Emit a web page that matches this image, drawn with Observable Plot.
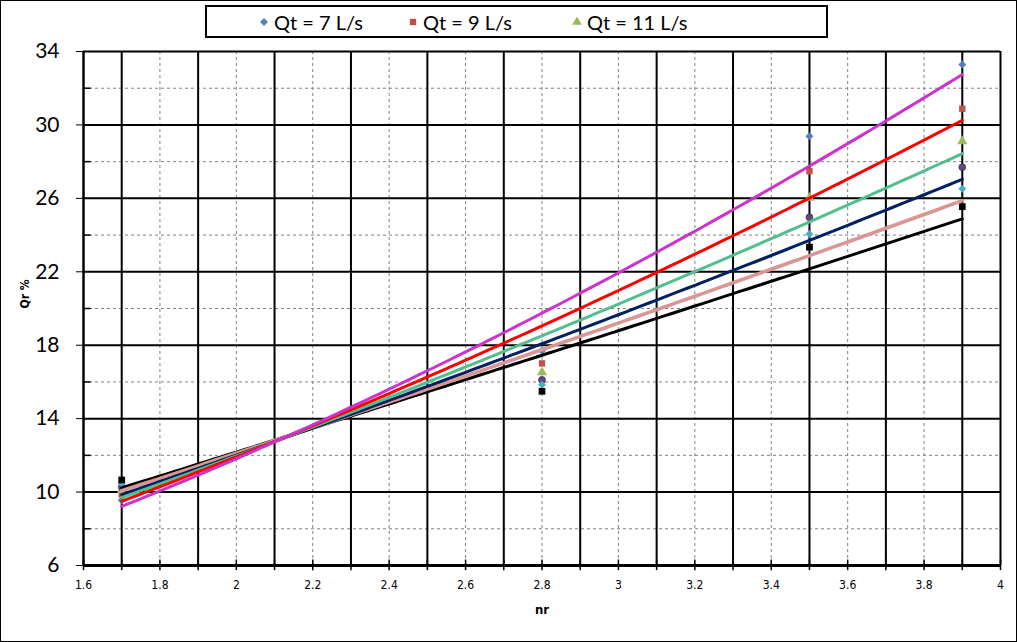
<!DOCTYPE html>
<html><head><meta charset="utf-8">
<script src="https://cdn.jsdelivr.net/npm/d3@7"></script>
<script src="https://cdn.jsdelivr.net/npm/@observablehq/plot@0.6"></script>
<style>
body{margin:0;background:#fff;}
#chart{position:relative;width:1017px;height:642px;overflow:hidden;font-family:Lato,"Open Sans",sans-serif;background:#fff;}
#border{position:absolute;left:0;top:0;width:1017px;height:642px;box-sizing:border-box;border:1.5px solid #000;pointer-events:none;}
#legend{position:absolute;left:205px;top:5px;width:623px;height:33px;box-sizing:border-box;border:2px solid #000;background:#fff;}
.item{position:absolute;top:0;height:29px;display:flex;align-items:center;font-size:20px;color:#000;white-space:nowrap;}
.item svg{margin-right:5px;}
#plot{position:absolute;left:0;top:43px;}
</style></head><body>
<div id="chart"><div id="legend"></div><div id="plot"></div><div id="border"></div></div>
<script>
// ---- data ----
const nr = [1.7, 2.8, 3.5, 3.9];
const qt7  = [9.56, 17.70, 29.38, 33.29];
const qt9  = [9.87, 17.01, 27.48, 30.88];
const qt11 = [10.08, 16.52, 26.03, 29.11];
const s4   = [10.26, 16.11, 24.97, 27.70];
const s5   = [10.47, 15.85, 24.06, 26.52];
const s6   = [10.66, 15.49, 23.34, 25.55];
const seriesNames = ["Qt = 7 L/s", "Qt = 9 L/s", "Qt = 11 L/s", "Series 4", "Series 5", "Series 6"];
const legendNames = ["Qt = 7 L/s", "Qt = 9 L/s", "Qt = 11 L/s"];
const xLabelTicks = [1.6, 1.8, 2, 2.2, 2.4, 2.6, 2.8, 3, 3.2, 3.4, 3.6, 3.8, 4];
const xSolidGrid = [1.7, 1.9, 2.1, 2.3, 2.5, 2.7, 2.9, 3.1, 3.3, 3.5, 3.7, 3.9, 4];
const xDashedGrid = [1.8, 2, 2.2, 2.4, 2.6, 2.8, 3, 3.2, 3.4, 3.6, 3.8];
const xMinorTicks = [1.6, 1.7, 1.8, 1.9, 2, 2.1, 2.2, 2.3, 2.4, 2.5, 2.6, 2.7, 2.8, 2.9, 3, 3.1, 3.2, 3.3, 3.4, 3.5, 3.6, 3.7, 3.8, 3.9, 4];
const yLabelTicks = [6, 10, 14, 18, 22, 26, 30, 34];
const yDashedGrid = [8, 12, 16, 20, 24, 28, 32];

// ---- styles ----
const seriesValues = [qt7, qt9, qt11, s4, s5, s6];
const markerColors = ["#4F81BD", "#C0504D", "#9BBB59", "#604A7B", "#4BACC6", "#000000"];
const markerSymbols = ["diamond2", "square", "triangle", "circle", "diamond2", "square"];
const markerR = [3.6, 3.6, 3.8, 3.4, 3.6, 3.8];
const trendColors = ["#CC33CC", "#FF0000", "#52BE8E", "#002060", "#DA9694", "#000000"];
const trendWidths = [3, 3, 3, 3, 3.6, 3];

// power trendline y = a x^b (least squares in log-log space, like Excel)
function fitPower(xs, ys) {
  const lx = xs.map(Math.log), ly = ys.map(Math.log);
  const mx = d3.mean(lx), my = d3.mean(ly);
  const b = d3.sum(lx, (v, i) => (v - mx) * (ly[i] - my)) / d3.sum(lx, v => (v - mx) ** 2);
  const a = Math.exp(my - b * mx);
  return {a, b};
}

const rows = seriesValues.map((vals, i) => nr.map((x, j) => ({series: seriesNames[i], nr: x, qr: vals[j]})));
const xMin = d3.min(nr), xMax = d3.max(nr);
const trends = seriesValues.map((vals, i) => {
  const {a, b} = fitPower(nr, vals);
  return d3.range(0, 111).map(k => {
    const x = xMin + (xMax - xMin) * k / 110;
    return {series: seriesNames[i], nr: x, qr: a * Math.pow(x, b)};
  });
});

const narrow = "'Liberation Sans Narrow','DejaVu Sans Condensed',sans-serif";
const marks = [
  Plot.ruleX(xDashedGrid, {stroke: "#808080", strokeWidth: 1, strokeDasharray: "3,3"}),
  Plot.ruleY(yDashedGrid, {stroke: "#808080", strokeWidth: 1, strokeDasharray: "3,3"}),
  Plot.ruleX(xSolidGrid, {stroke: "#000", strokeWidth: 2}),
  Plot.ruleY(yLabelTicks.filter(d => d > 6), {stroke: "#000", strokeWidth: 2}),
  // minor tick marks
  Plot.ruleY(yDashedGrid, {x1: 1.6, x2: 1.62, stroke: "#000", strokeWidth: 1.5}),
  Plot.ruleX(xMinorTicks, {y1: 5.72, y2: 6.3, stroke: "#000", strokeWidth: 1.5}),
  // axes
  Plot.axisY({ticks: yLabelTicks, tickSize: 7, tickPadding: 17, fontSize: 21, fontFamily: "Lato", label: null, stroke: "#000"}),
  Plot.axisX({ticks: xLabelTicks, tickSize: 0, tickPadding: 15, fontSize: 12, fontFamily: narrow, tickFormat: d => String(d), label: null}),
  Plot.text(["nr"], {frameAnchor: "bottom", dy: 48, fontSize: 13, fontWeight: "bold", fontFamily: narrow}),
  Plot.text(["Qr %"], {frameAnchor: "left", dx: -58, rotate: -90, fontSize: 12, fontWeight: "bold", fontFamily: narrow}),
];
// markers
rows.forEach((r, i) => {
  marks.push(Plot.dot(r, {x: "nr", y: "qr", symbol: () => markerSymbols[i], fill: markerColors[i], r: markerR[i],
    stroke: i === 3 ? "#3F3151" : "none", strokeWidth: 0.8}));
});
// trendlines (drawn over the markers)
for (let i = trends.length - 1; i >= 0; i--) {
  marks.push(Plot.line(trends[i], {x: "nr", y: "qr", stroke: trendColors[i], strokeWidth: trendWidths[i]}));
}
// frame lines
marks.push(Plot.ruleX([1.6], {stroke: "#000", strokeWidth: 2.5}));
marks.push(Plot.ruleY([6], {stroke: "#000", strokeWidth: 3}));

const plot = Plot.plot({
  width: 1017, height: 599,
  marginTop: 8, marginLeft: 83, marginRight: 17, marginBottom: 77,
  x: {domain: [1.6, 4]},
  y: {domain: [6, 34]},
  symbol: {type: "identity"},
  style: {background: "transparent", color: "#000", overflow: "visible"},
  marks
});
document.getElementById("plot").appendChild(plot);

// legend
const legend = document.getElementById("legend");
const legendX = [52, 201, 365];
const symMap = {diamond2: d3.symbolDiamond2, square: d3.symbolSquare, triangle: d3.symbolTriangle};
legendNames.forEach((name, i) => {
  const idx = seriesNames.indexOf(name);
  const div = document.createElement("div");
  div.className = "item";
  div.style.left = legendX[i] + "px";
  const path = d3.symbol(symMap[markerSymbols[idx]], 40)();
  div.innerHTML = `<svg width="10" height="10" viewBox="-5 -5 10 10"><path d="${path}" fill="${markerColors[idx]}"/></svg><span>${name}</span>`;
  legend.appendChild(div);
});
</script>
</body></html>
